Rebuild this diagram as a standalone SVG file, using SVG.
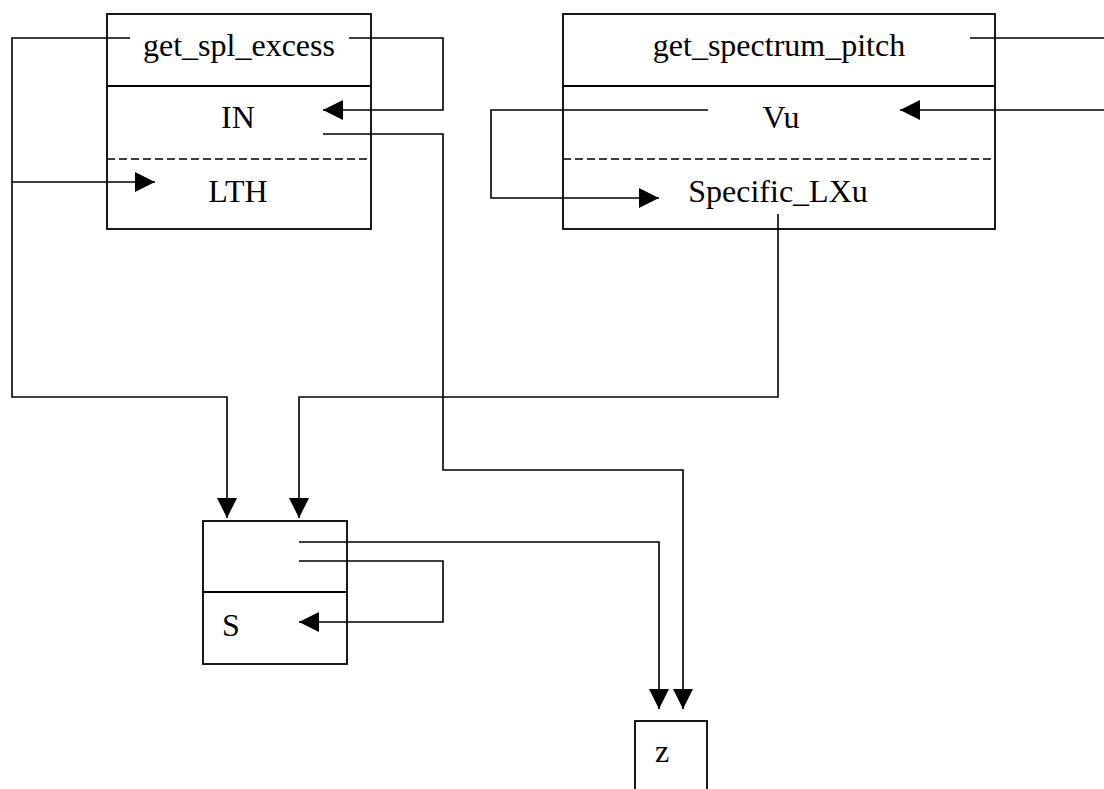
<svg xmlns="http://www.w3.org/2000/svg" width="1104" height="789" viewBox="0 0 1104 789">
<style>
.box{fill:#fff;stroke:#000;stroke-width:1.8}
.div{stroke:#000;stroke-width:1.8}
.dash{stroke:#000;stroke-width:1.5;stroke-dasharray:8 4}
.t{font-family:"Liberation Serif","Times New Roman",serif;font-size:32px;fill:#000;text-anchor:middle}
.c{fill:none;stroke:#000;stroke-width:1.6}
.a{marker-end:url(#ah)}
</style>
<defs>
<marker id="ah" markerUnits="userSpaceOnUse" markerWidth="20" markerHeight="20" refX="20" refY="10" orient="auto">
<path d="M0,0 L20,10 L0,20 z" fill="#000"/>
</marker>
</defs>
<rect width="1104" height="789" fill="#fff"/>
<g id="get_spl_excess">
<rect class="box" x="107" y="14" width="264" height="215"/>
<line class="div" x1="107" y1="86" x2="371" y2="86"/>
<line class="dash" x1="107" y1="159" x2="371" y2="159"/>
<text class="t" x="239" y="56">get_spl_excess</text>
<text class="t" x="238" y="128">IN</text>
<text class="t" x="238" y="202">LTH</text>
</g>
<g id="get_spectrum_pitch">
<rect class="box" x="563" y="14" width="432" height="215"/>
<line class="div" x1="563" y1="86" x2="995" y2="86"/>
<line class="dash" x1="563" y1="159" x2="995" y2="159"/>
<text class="t" x="779" y="56">get_spectrum_pitch</text>
<text class="t" x="781" y="128">Vu</text>
<text class="t" x="778" y="202">Specific_LXu</text>
</g>
<g id="S">
<rect class="box" x="203" y="521" width="144" height="143"/>
<line class="div" x1="203" y1="592" x2="347" y2="592"/>
<text class="t" x="231" y="636">S</text>
</g>
<g id="z">
<rect class="box" x="635" y="721" width="72" height="90"/>
<text class="t" x="662" y="762">z</text>
</g>
<g id="connectors">
<path class="c a" d="M130,38 H12 V397 H227 V518"/>
<path class="c a" d="M12,182 H155"/>
<path class="c a" d="M349,38 H443 V110 H323"/>
<path class="c a" d="M323,134 H443 V470 H683 V709"/>
<path class="c" d="M970,38 H1104"/>
<path class="c a" d="M1104,110 H900"/>
<path class="c a" d="M708,110 H491 V198 H659"/>
<path class="c a" d="M778,214 V397 H299 V518"/>
<path class="c a" d="M299,542 H659 V709"/>
<path class="c a" d="M299,561 H443 V622 H299"/>
</g>
</svg>
